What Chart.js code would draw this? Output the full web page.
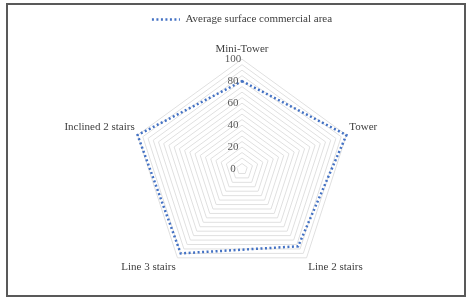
<!DOCTYPE html>
<html>
<head>
<meta charset="utf-8">
<script src="https://cdn.jsdelivr.net/npm/chart.js@4.4.1/dist/chart.umd.min.js"></script>
<style>
  html, body { margin: 0; padding: 0; background: #fff; }
  #wrap { position: relative; width: 472px; height: 302px; }
  #frame {
    position: absolute; left: 6px; top: 3px; width: 460px; height: 294px;
    border: 2px solid #595959; box-sizing: border-box;
  }
  canvas { position: absolute; left: 0; top: 0; }
</style>
</head>
<body>
<div id="wrap">
  <div id="frame"></div>
  <canvas id="radar" width="472" height="302"></canvas>
</div>
<script>
// categorias y valores
const categories = ['Mini-Tower', 'Tower', 'Line 2 stairs', 'Line 3 stairs', 'Inclined 2 stairs'];
const surfaceArea = [80, 100, 87, 95, 100];
const tickLabels = [0, 20, 40, 60, 80, 100];

const serif = '"Liberation Serif", "DejaVu Serif", serif';

// etiquetas del eje a la izquierda del eje vertical, como en el original
const tickPlugin = {
  id: 'leftTicks',
  afterDatasetsDraw(chart) {
    const scale = chart.scales.r;
    const ctx = chart.ctx;
    ctx.save();
    ctx.font = '11px ' + serif;
    ctx.fillStyle = '#595959';
    ctx.textAlign = 'center';
    ctx.textBaseline = 'middle';
    tickLabels.forEach(function (v) {
      const d = scale.getDistanceFromCenterForValue(v);
      ctx.fillText(String(v), scale.xCenter - 9, scale.yCenter - d);
    });
    ctx.restore();
  }
};

const ctx = document.getElementById('radar').getContext('2d');

new Chart(ctx, {
  type: 'radar',
  data: {
    labels: categories,
    datasets: [{
      label: 'Average surface commercial area',
      data: surfaceArea,
      borderColor: '#4472C4',
      backgroundColor: 'rgba(0,0,0,0)',
      borderWidth: 2.5,
      borderDash: [2, 2.5],
      pointRadius: 0,
      fill: false,
      tension: 0
    }]
  },
  options: {
    responsive: false,
    animation: false,
    layout: { padding: { left: 12, right: 0, top: 12, bottom: 15 } },
    plugins: {
      legend: {
        position: 'top',
        labels: {
          font: { family: serif, size: 11 },
          color: '#404040',
          boxWidth: 28,
          boxHeight: 0,
          padding: 2,
          usePointStyle: false
        }
      },
      tooltip: { enabled: false }
    },
    scales: {
      r: {
        min: 0,
        max: 100,
        ticks: { stepSize: 5, display: false },
        grid: { color: '#e0e0e0', lineWidth: 1 },
        angleLines: { display: false },
        pointLabels: {
          font: { family: serif, size: 11 },
          color: '#404040',
          padding: 3
        }
      }
    }
  },
  plugins: [tickPlugin]
});
</script>
</body>
</html>
